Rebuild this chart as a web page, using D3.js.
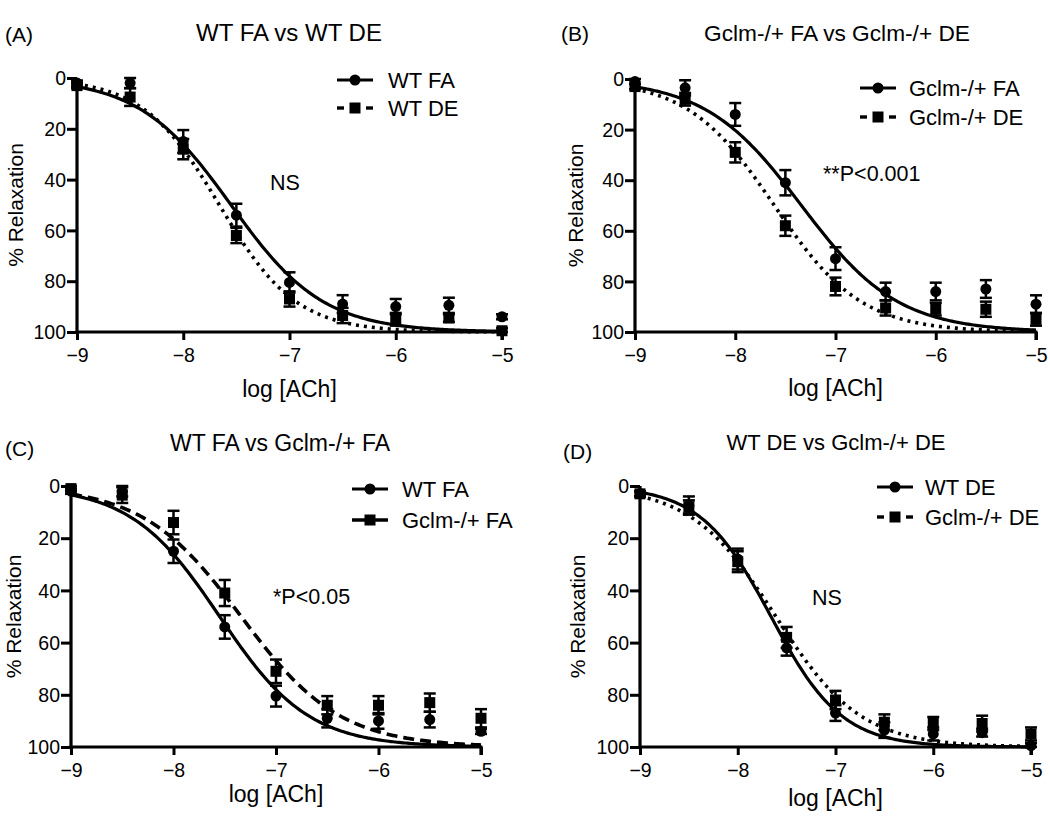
<!DOCTYPE html>
<html>
<head>
<meta charset="utf-8">
<script src="https://cdn.jsdelivr.net/npm/d3@7"></script>
<style>
  html, body { margin: 0; padding: 0; background: #fff; }
  svg { display: block; font-family: "Liberation Sans", Arial, sans-serif; }
</style>
</head>
<body>
<svg id="chart" width="1050" height="819"></svg>
<script>
// ---- data ----
const logACh = [-9, -8.5, -8, -7.5, -7, -6.5, -6, -5.5, -5];
const xTicks = [-9, -8, -7, -6, -5];
const yTicks = [0, 20, 40, 60, 80, 100];

const wtFA     = [2, 2, 25, 54, 80.5, 89, 90, 89.5, 94];
const wtFAErr  = [1, 2, 4.5, 4.5, 4, 3.5, 3, 3, 1];
const wtDE     = [3, 7.5, 28, 62, 87, 93.5, 95, 94.5, 99.5];
const wtDEErr  = [1, 3.5, 4, 3, 3, 3, 2.5, 1.5, 1];
const gcFA     = [1, 3.5, 14, 41, 71, 84, 84, 83, 89];
const gcFAErr  = [1, 3, 4.5, 5, 4.5, 3.5, 3.5, 3.5, 3.5];
const gcDE     = [3, 8, 29, 58, 82, 90.5, 91, 91, 95];
const gcDEErr  = [1, 2.5, 4, 4, 3.5, 3, 2.5, 3, 2.5];

// fitted sigmoid parameters (logEC50, Hill slope)
const wtFAFit = [-7.55, 1.0];
const wtDEFit = [-7.66, 1.2];
const gcFAFit = [-7.34, 0.9];
const gcDEFit = [-7.61, 1.0];

const panelLetters = ["(A)", "(B)", "(C)", "(D)"];
const panelTitles = ["WT FA vs WT DE", "Gclm-/+ FA vs Gclm-/+ DE", "WT FA vs Gclm-/+ FA", "WT DE vs Gclm-/+ DE"];
const panelNotes = ["NS", "**P<0.001", "*P<0.05", "NS"];
const series1Names = ["WT FA", "Gclm-/+ FA", "WT FA", "WT DE"];
const series2Names = ["WT DE", "Gclm-/+ DE", "Gclm-/+ FA", "Gclm-/+ DE"];

// ---- layout ----
const panels = [
  { l: 77,  r: 502,  t: 78,  b: 332, s1: [wtFA, wtFAErr, wtFAFit], s2: [wtDE, wtDEErr, wtDEFit], dash2: "dot",
    letter: [5, 42], title: [289, 41, 24], note: [285, 190, "middle"], leg: [337, 388, 80, 108], xl: 397, yl: 15 },
  { l: 635, r: 1036, t: 79,  b: 332, s1: [gcFA, gcFAErr, gcFAFit], s2: [gcDE, gcDEErr, gcDEFit], dash2: "dot",
    letter: [561, 41], title: [837, 41, 22.7], note: [823, 181, "start"], leg: [860, 909, 88, 117], xl: 396, yl: 575 },
  { l: 71,  r: 481,  t: 486, b: 747, s1: [wtFA, wtFAErr, wtFAFit], s2: [gcFA, gcFAErr, gcFAFit], dash2: "dash",
    letter: [5, 456], title: [280, 451, 23], note: [273, 604, "start"], leg: [352, 402, 489, 520], xl: 802, yl: 13 },
  { l: 640, r: 1031, t: 486, b: 747, s1: [wtDE, wtDEErr, wtDEFit], s2: [gcDE, gcDEErr, gcDEFit], dash2: "dot",
    letter: [563, 459], title: [836, 450, 22], note: [827, 605, "middle"], leg: [877, 925, 487, 517], xl: 806, yl: 577 }
];

const svg = d3.select("#chart");
const curveX = d3.range(-9, -4.999, 0.02);
const sigmoid = (fit, x) => 100 / (1 + Math.pow(10, (fit[0] - x) * fit[1]));
const dashes = { dot: "3,5", dash: "11,6" };

panels.forEach((p, i) => {
  const g = svg.append("g");
  const x = d3.scaleLinear().domain([-9, -5]).range([p.l, p.r]);
  const y = d3.scaleLinear().domain([0, 100]).range([p.t, p.b]);

  // axes
  const xAxis = d3.axisBottom(x).tickValues(xTicks).tickSize(8).tickPadding(4).tickFormat(d3.format("d"));
  const yAxis = d3.axisLeft(y).tickValues(yTicks).tickSize(10).tickPadding(1).tickFormat(d3.format("d"));
  const gx = g.append("g").attr("transform", `translate(0,${p.b})`).call(xAxis);
  const gy = g.append("g").attr("transform", `translate(${p.l},0)`).call(yAxis);
  [gx, gy].forEach(a => {
    a.select(".domain").attr("stroke", "#000").attr("stroke-width", 3.2);
    a.selectAll(".tick line").attr("stroke", "#000").attr("stroke-width", 3);
    a.selectAll(".tick text").attr("fill", "#000").attr("font-size", 19.5)
      .attr("font-family", "Liberation Sans, Arial, sans-serif");
  });
  gx.select(".domain").attr("d", `M${p.l - 1.5},0H${p.r + 1.5}M${p.r},0V8`);
  gy.select(".domain").attr("d", `M0,${p.t}V${p.b + 1.5}`);
  gx.selectAll(".tick text").attr("dy", "0.9em");
  gy.selectAll(".tick text").attr("dy", "0.34em");

  // curves
  const lineGen = fit => d3.line().x(d => x(d)).y(d => y(sigmoid(fit, d)))(curveX);
  g.append("path").attr("d", lineGen(p.s1[2])).attr("fill", "none").attr("stroke", "#000").attr("stroke-width", 3.2);
  g.append("path").attr("d", lineGen(p.s2[2])).attr("fill", "none").attr("stroke", "#000").attr("stroke-width", 3.6)
    .attr("stroke-dasharray", dashes[p.dash2]);

  // error bars + markers
  const drawErr = (vals, errs) => {
    const eg = g.append("g").attr("stroke", "#000").attr("stroke-width", 2.5);
    vals.forEach((v, k) => {
      const cx = x(logACh[k]);
      const y0 = y(Math.max(0, v - errs[k])), y1 = y(Math.min(100, v + errs[k]));
      eg.append("line").attr("x1", cx).attr("x2", cx).attr("y1", y0).attr("y2", y1);
      eg.append("line").attr("x1", cx - 6).attr("x2", cx + 6).attr("y1", y0).attr("y2", y0);
      eg.append("line").attr("x1", cx - 6).attr("x2", cx + 6).attr("y1", y1).attr("y2", y1);
    });
  };
  drawErr(p.s2[0], p.s2[1]);
  drawErr(p.s1[0], p.s1[1]);
  g.append("g").selectAll("rect").data(p.s2[0]).join("rect")
    .attr("x", (d, k) => x(logACh[k]) - 5.5).attr("y", d => y(d) - 5.5)
    .attr("width", 11).attr("height", 11).attr("fill", "#000");
  g.append("g").selectAll("circle").data(p.s1[0]).join("circle")
    .attr("cx", (d, k) => x(logACh[k])).attr("cy", d => y(d)).attr("r", 5.5).attr("fill", "#000");

  // legend
  const [lx, tx, r1, r2] = p.leg;
  g.append("line").attr("x1", lx).attr("x2", lx + 36).attr("y1", r1).attr("y2", r1)
    .attr("stroke", "#000").attr("stroke-width", 3.2);
  g.append("circle").attr("cx", lx + 18).attr("cy", r1).attr("r", 5.5).attr("fill", "#000");
  if (p.dash2 === "dash") {
    g.append("line").attr("x1", lx).attr("x2", lx + 36).attr("y1", r2).attr("y2", r2)
      .attr("stroke", "#000").attr("stroke-width", 3.4);
  } else {
    g.append("line").attr("x1", lx).attr("x2", lx + 7).attr("y1", r2).attr("y2", r2).attr("stroke", "#000").attr("stroke-width", 3.4);
    g.append("line").attr("x1", lx + 29).attr("x2", lx + 36).attr("y1", r2).attr("y2", r2).attr("stroke", "#000").attr("stroke-width", 3.4);
  }
  g.append("rect").attr("x", lx + 12.5).attr("y", r2 - 5.5).attr("width", 11).attr("height", 11).attr("fill", "#000");
  g.append("text").attr("x", tx).attr("y", r1).attr("dy", "0.36em").attr("font-size", 22).text(series1Names[i]);
  g.append("text").attr("x", tx).attr("y", r2).attr("dy", "0.36em").attr("font-size", 22).text(series2Names[i]);

  // texts
  g.append("text").attr("x", p.letter[0]).attr("y", p.letter[1]).attr("font-size", 21).text(panelLetters[i]);
  g.append("text").attr("x", p.title[0]).attr("y", p.title[1]).attr("text-anchor", "middle").attr("font-size", p.title[2]).text(panelTitles[i]);
  g.append("text").attr("x", p.note[0]).attr("y", p.note[1]).attr("text-anchor", p.note[2]).attr("font-size", 21.5).text(panelNotes[i]);
  g.append("text").attr("x", (p.l + p.r) / 2).attr("y", p.xl).attr("text-anchor", "middle").attr("font-size", 23).text("log [ACh]");
  g.append("text").attr("transform", `translate(${p.yl},${(p.t + p.b) / 2}) rotate(-90)`)
    .attr("text-anchor", "middle").attr("dy", "0.36em").attr("font-size", 21).text("% Relaxation");
});
</script>
</body>
</html>
